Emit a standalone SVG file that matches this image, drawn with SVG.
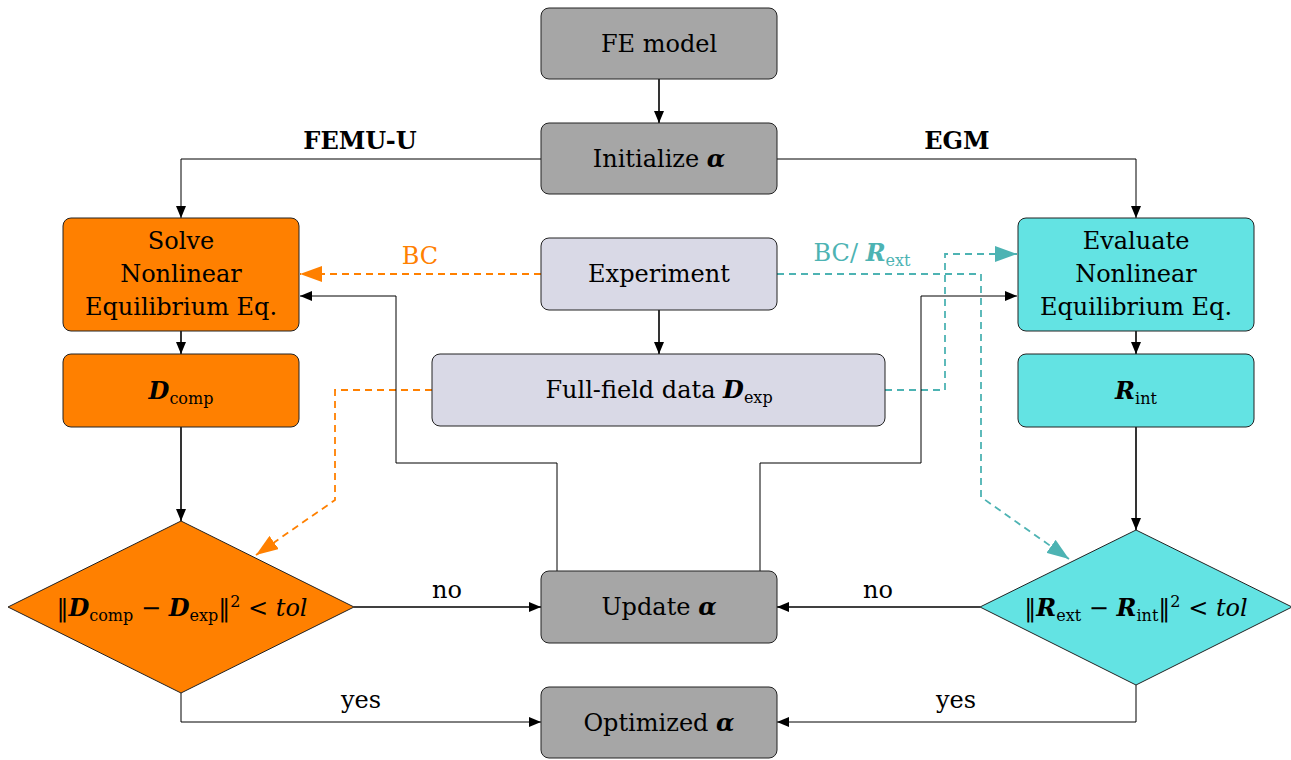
<svg xmlns="http://www.w3.org/2000/svg" width="1291" height="760" viewBox="0 0 1291 760">
<style>
  text { font-family: "DejaVu Serif", "Liberation Serif", "Noto Serif", serif; font-size: 24px; fill: #000; }
  .c { text-anchor: middle; }
  .b { font-weight: bold; }
  .m { font-style: italic; font-weight: bold; }
  .i { font-style: italic; }
  .sub { font-size: 16px; }
  .box { stroke: #222; stroke-width: 1; }
  .gray { fill: #a6a6a6; }
  .lav { fill: #d9d9e6; }
  .ora { fill: #ff8000; }
  .cya { fill: #63e3e3; }
  .ln { fill: none; stroke: #000; stroke-width: 1; }
  .lnk { fill: none; stroke: #000; stroke-width: 1.6; }
  .dor { fill: none; stroke: #ff8000; stroke-width: 1.8; stroke-dasharray: 7 5; }
  .dte { fill: none; stroke: #4db3b3; stroke-width: 1.8; stroke-dasharray: 7 5; }
</style>
<defs>
  <marker id="ak" viewBox="0 0 12 10" refX="12" refY="5" markerWidth="12" markerHeight="10" markerUnits="userSpaceOnUse" orient="auto">
    <path d="M0,0 L12,5 L0,10 Z" fill="#000"/>
  </marker>
  <marker id="ao" viewBox="0 0 22 16" refX="22" refY="8" markerWidth="22" markerHeight="16" markerUnits="userSpaceOnUse" orient="auto">
    <path d="M0,0 L22,8 L0,16 Z" fill="#ff8000"/>
  </marker>
  <marker id="at" viewBox="0 0 22 16" refX="22" refY="8" markerWidth="22" markerHeight="16" markerUnits="userSpaceOnUse" orient="auto">
    <path d="M0,0 L22,8 L0,16 Z" fill="#4db3b3"/>
  </marker>
</defs>

<!-- connectors -->
<g id="connectors">
  <path class="lnk" d="M659,79 V123" marker-end="url(#ak)"/>
  <path class="ln" d="M541,159 H181 V218" marker-end="url(#ak)"/>
  <path class="ln" d="M777,159 H1136 V218" marker-end="url(#ak)"/>
  <path class="lnk" d="M181,331 V354" marker-end="url(#ak)"/>
  <path class="lnk" d="M181,427 V521" marker-end="url(#ak)"/>
  <path class="lnk" d="M1136,331 V354" marker-end="url(#ak)"/>
  <path class="lnk" d="M1136,427 V530" marker-end="url(#ak)"/>
  <path class="lnk" d="M659,310 V354" marker-end="url(#ak)"/>
  <!-- boundary conditions -->
  <path class="dor" d="M541,274 H300" marker-end="url(#ao)"/>
  <path class="dte" d="M777,274 H981 V497 L1069,559" marker-end="url(#at)"/>
  <path class="dte" d="M885,390 H945 V254 H1017" marker-end="url(#at)"/>
  <path class="dor" d="M432,390 H335 V500 L256,555" marker-end="url(#ao)"/>
  <!-- update loops -->
  <path class="ln" d="M557,571 V463 H396 V296 H300" marker-end="url(#ak)"/>
  <path class="ln" d="M760,571 V463 H921 V296 H1017" marker-end="url(#ak)"/>
  <path class="lnk" d="M354,607 H541" marker-end="url(#ak)"/>
  <path class="lnk" d="M980,607 H777" marker-end="url(#ak)"/>
  <path class="ln" d="M181,693 V722 H541" marker-end="url(#ak)"/>
  <path class="ln" d="M1136,685 V722 H777" marker-end="url(#ak)"/>
  <text class="c b" x="360" y="149">FEMU-U</text>
  <text class="c b" x="957" y="149">EGM</text>
  <text class="c" x="420" y="264" style="fill:#ff8000">BC</text>
  <text class="c" x="862" y="261" style="fill:#4db3b3">BC/ <tspan class="m" style="fill:#4db3b3">R</tspan><tspan class="sub" dy="5" style="fill:#4db3b3">ext</tspan></text>
  <text class="c" x="447" y="598">no</text>
  <text class="c" x="878" y="598">no</text>
  <text class="c" x="361" y="708">yes</text>
  <text class="c" x="956" y="708">yes</text>
</g>

<g id="fe-model">
  <rect class="box gray" x="541" y="8" width="236" height="71" rx="8"/>
  <text class="c" x="659" y="52">FE model</text>
</g>
<g id="initialize">
  <rect class="box gray" x="541" y="123" width="236" height="71" rx="8"/>
  <text class="c" x="659" y="167">Initialize <tspan class="m">α</tspan></text>
</g>
<g id="solve">
  <rect class="box ora" x="63" y="218" width="236" height="113" rx="8"/>
  <text class="c" x="181" y="249">Solve</text>
  <text class="c" x="181" y="282">Nonlinear</text>
  <text class="c" x="181" y="315">Equilibrium Eq.</text>
</g>
<g id="d-comp">
  <rect class="box ora" x="63" y="354" width="236" height="73" rx="8"/>
  <text class="c" x="181" y="399"><tspan class="m">D</tspan><tspan class="sub" dy="5">comp</tspan></text>
</g>
<g id="experiment">
  <rect class="box lav" x="541" y="238" width="236" height="72" rx="8"/>
  <text class="c" x="659" y="282">Experiment</text>
</g>
<g id="full-field">
  <rect class="box lav" x="432" y="354" width="453" height="72" rx="8"/>
  <text class="c" x="659" y="398">Full-field data <tspan class="m">D</tspan><tspan class="sub" dy="5">exp</tspan></text>
</g>
<g id="evaluate">
  <rect class="box cya" x="1018" y="218" width="236" height="113" rx="8"/>
  <text class="c" x="1136" y="249">Evaluate</text>
  <text class="c" x="1136" y="282">Nonlinear</text>
  <text class="c" x="1136" y="315">Equilibrium Eq.</text>
</g>
<g id="r-int">
  <rect class="box cya" x="1018" y="354" width="236" height="73" rx="8"/>
  <text class="c" x="1136" y="399"><tspan class="m">R</tspan><tspan class="sub" dy="5">int</tspan></text>
</g>
<g id="check-d">
  <polygon class="box ora" points="181,521 354,607 181,693 8,607"/>
  <text class="c" x="182" y="616">‖<tspan class="m">D</tspan><tspan class="sub" dy="5">comp</tspan><tspan dy="-5"> − </tspan><tspan class="m">D</tspan><tspan class="sub" dy="5">exp</tspan><tspan dy="-5">‖</tspan><tspan class="sub" dy="-9">2</tspan><tspan dy="9"> &lt; </tspan><tspan class="i">tol</tspan></text>
</g>
<g id="check-r">
  <polygon class="box cya" points="1136,530 1292,607 1136,685 980,607"/>
  <text class="c" x="1136" y="616">‖<tspan class="m">R</tspan><tspan class="sub" dy="5">ext</tspan><tspan dy="-5"> − </tspan><tspan class="m">R</tspan><tspan class="sub" dy="5">int</tspan><tspan dy="-5">‖</tspan><tspan class="sub" dy="-9">2</tspan><tspan dy="9"> &lt; </tspan><tspan class="i">tol</tspan></text>
</g>
<g id="update">
  <rect class="box gray" x="541" y="571" width="236" height="72" rx="8"/>
  <text class="c" x="659" y="615">Update <tspan class="m">α</tspan></text>
</g>
<g id="optimized">
  <rect class="box gray" x="541" y="687" width="236" height="71" rx="8"/>
  <text class="c" x="659" y="731">Optimized <tspan class="m">α</tspan></text>
</g>
</svg>
